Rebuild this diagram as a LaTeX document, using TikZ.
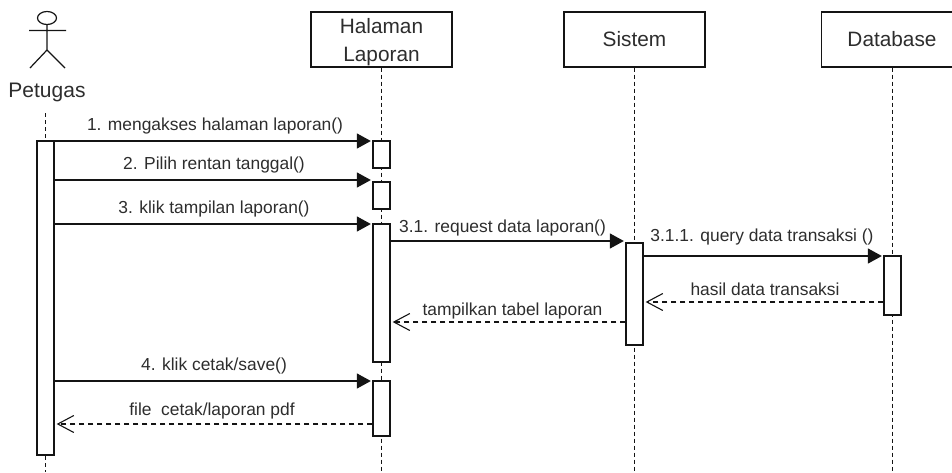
\documentclass[tikz,border=0pt]{standalone}
\usepackage{fontspec}
\setmainfont{Liberation Sans}
\usetikzlibrary{arrows.meta}
\definecolor{LabelGray}{RGB}{45, 45, 45}
\definecolor{LineBlack}{RGB}{20, 20, 20}

\tikzset{
    lifebox/.style={draw=LineBlack, line width=1.3pt, fill=white, minimum width=141pt, minimum height=55pt, inner sep=0pt, align=center, text=LabelGray, font=\fontsize{20.8}{28}\selectfont},
    actbar/.style={draw=LineBlack, line width=1.3pt, fill=white, minimum width=17pt, inner sep=0pt},
    lifeline/.style={LineBlack, line width=1.2pt, dash pattern=on 4pt off 3pt},
    callmsg/.style={LineBlack, line width=1.3pt, -{Triangle[length=14pt,width=15pt]}, shorten >=1.5pt},
    backmsg/.style={LineBlack, line width=1.1pt, dash pattern=on 5pt off 4pt, -{Straight Barb[length=16pt,width=17pt,line width=1.1pt]}, shorten >=2pt},
    msglabel/.style={text=LabelGray, inner sep=0pt, font=\fontsize{17.4}{20}\selectfont}
}

\begin{document}
\begin{tikzpicture}[x=1pt, y=-1pt]
    \useasboundingbox (0,0) rectangle (952,472);

    \draw[LineBlack, line width=1.2pt] (47,18) ellipse [x radius=9.5, y radius=6.5];
    \draw[LineBlack, line width=1.2pt] (47,24.5)--(47,50) (29,30.5)--(66,30.5) (30,68)--(47,50)--(65,68);
    \node[text=LabelGray, inner sep=0pt, font=\fontsize{21}{25}\selectfont] (petugas) at (47,92) {Petugas};

    \node[lifebox] (halaman) at (381.5,39.5) {\rule{0pt}{21pt}Halaman\\Laporan};
    \node[lifebox] (sistem) at (634.5,39.5) {Sistem};
    \node[lifebox] (database) at (892,39.5) {Database};

    \coordinate (petugasTop) at (45.5,113);
    \coordinate (petugasEnd) at (45.5,472);
    \coordinate (halamanEnd) at (381.5,472);
    \coordinate (sistemEnd) at (634.5,472);
    \coordinate (databaseEnd) at (892.4,472);

    \draw[lifeline] (petugasTop)--(petugasEnd);
    \draw[lifeline] (halaman.south)--(halamanEnd);
    \draw[lifeline] (sistem.south)--(sistemEnd);
    \draw[lifeline] (database.south -| databaseEnd)--(databaseEnd);

    \node[actbar, minimum height=314pt] (barP) at (45.5,298) {};
    \node[actbar, minimum height=27pt] (barA) at (381.5,154.5) {};
    \node[actbar, minimum height=27pt] (barB) at (381.5,195.5) {};
    \node[actbar, minimum height=138pt] (barC) at (381.5,293) {};
    \node[actbar, minimum height=55pt] (barD) at (381.5,408.5) {};
    \node[actbar, minimum height=102pt] (barS) at (634.5,294) {};
    \node[actbar, minimum height=59pt] (barT) at (892.5,285.5) {};

    \coordinate (m1) at (0,141);
    \coordinate (m2) at (0,180);
    \coordinate (m3) at (0,224);
    \coordinate (m4) at (0,241);
    \coordinate (m5) at (0,256);
    \coordinate (m6) at (0,302);
    \coordinate (m7) at (0,322);
    \coordinate (m8) at (0,381);
    \coordinate (m9) at (0,424);

    \draw[callmsg] (barP.east |- m1)--(barA.west |- m1);
    \draw[callmsg] (barP.east |- m2)--(barB.west |- m2);
    \draw[callmsg] (barP.east |- m3)--(barC.west |- m3);
    \draw[callmsg] (barC.east |- m4)--(barS.west |- m4);
    \draw[callmsg] (barS.east |- m5)--(barT.west |- m5);
    \draw[backmsg] (barT.west |- m6)--(barS.east |- m6);
    \draw[backmsg] (barS.west |- m7)--(barC.east |- m7);
    \draw[callmsg] (barP.east |- m8)--(barD.west |- m8);
    \draw[backmsg] (barD.west |- m9)--(barP.east |- m9);

    \node[msglabel] (l1) at (215,126) {1. mengakses halaman laporan()};
    \node[msglabel] (l2) at (214,165) {2. Pilih rentan tanggal()};
    \node[msglabel] (l3) at (214,209) {3. klik tampilan laporan()};
    \node[msglabel] (l4) at (502.5,228) {3.1. request data laporan()};
    \node[msglabel] (l5) at (762,237) {3.1.1. query data transaksi ()};
    \node[msglabel] (l6) at (765,289) {hasil data transaksi};
    \node[msglabel] (l7) at (512.5,311) {tampilkan tabel laporan};
    \node[msglabel] (l8) at (214,366) {4. klik cetak/save()};
    \node[msglabel] (l9) at (212,411) {file\ \ cetak/laporan pdf};
\end{tikzpicture}
\end{document}
